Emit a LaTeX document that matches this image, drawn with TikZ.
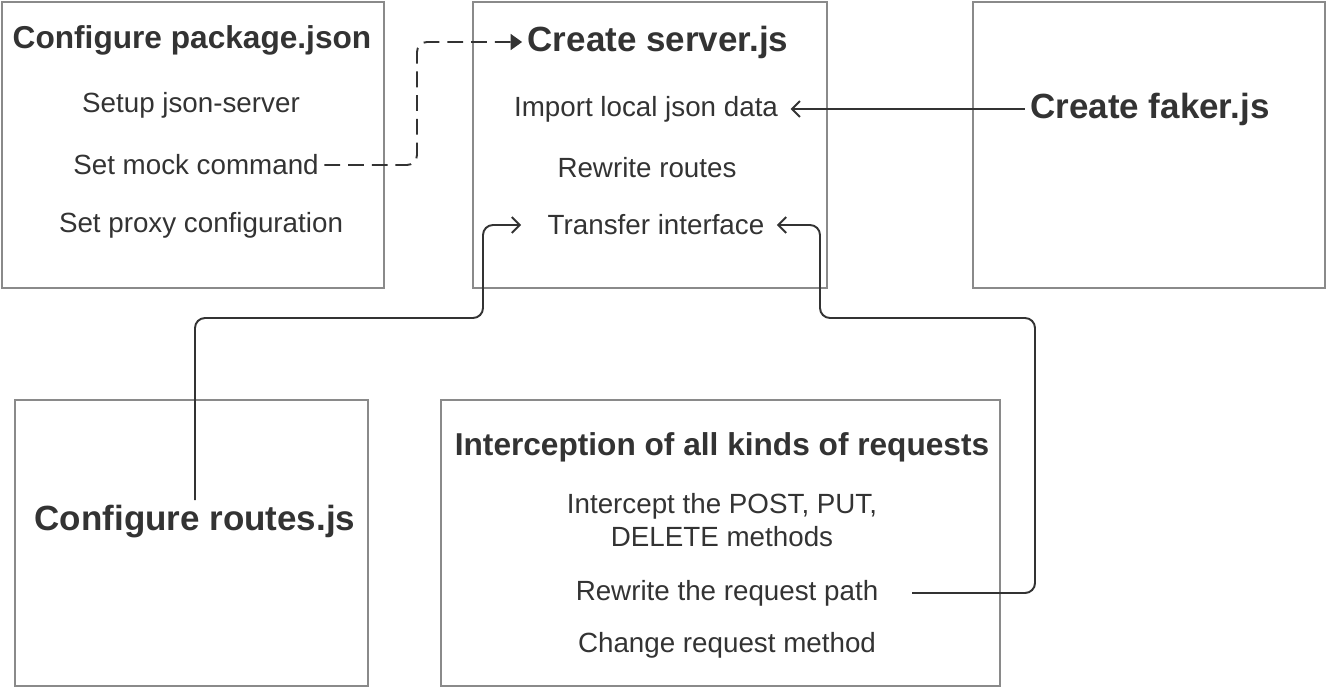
\documentclass[tikz,border=0pt]{standalone}
\usepackage{fontspec}
\setmainfont{Liberation Sans}
\usetikzlibrary{arrows.meta}
\definecolor{boxgray}{HTML}{8A8A8A}
\definecolor{ink}{HTML}{333333}
\begin{document}
\begin{tikzpicture}[
    panel/.style={draw=boxgray,line width=1.1pt,minimum height=5.72cm,inner sep=0pt},
    item/.style={text=ink,font=\fontsize{15.8}{19}\selectfont,inner sep=3pt},
    head/.style={text=ink,font=\fontsize{18}{21}\selectfont\bfseries,inner sep=3pt},
    bighead/.style={text=ink,font=\fontsize{19.9}{23}\selectfont\bfseries,inner sep=3pt},
    link/.style={draw=ink,line width=1.1pt,rounded corners=0.2cm}]
    \useasboundingbox (0,0) rectangle (26.54,-13.76);
    % the five boxes
    \node[panel,minimum width=7.64cm] (pkg) at (3.86,-2.9) {};
    \node[panel,minimum width=7.08cm] (srv) at (13.0,-2.9) {};
    \node[panel,minimum width=7.04cm] (fkr) at (22.98,-2.9) {};
    \node[panel,minimum width=7.06cm] (rts) at (3.83,-10.86) {};
    \node[panel,minimum width=11.18cm] (icp) at (14.41,-10.86) {};
    % texts
    \node[head] (pkgtitle) at (3.84,-0.8) {Configure package.json};
    \node[item] (setup) at (3.82,-2.1) {Setup json-server};
    \node[item] (mock) at (3.92,-3.3) {Set mock command};
    \node[item] (proxy) at (4.02,-4.5) {Set proxy configuration};
    \node[bighead] (srvtitle) at (13.16,-0.84) {Create server.js};
    \node[item] (import) at (12.92,-2.18) {Import local json data};
    \node[item] (rewrite) at (12.94,-3.36) {Rewrite routes};
    \node[item] (transfer) at (13.12,-4.5) {Transfer interface};
    \node[bighead] (faker) at (23.0,-2.18) {Create faker.js};
    \node[bighead] (routes) at (3.9,-10.44) {Configure routes.js};
    \node[head] (icptitle) at (14.44,-8.94) {Interception of all kinds of requests};
    \node[item,align=center] (methods) at (14.44,-10.4) {Intercept the POST, PUT,\\DELETE methods};
    \node[item] (reqpath) at (14.54,-11.86) {Rewrite the request path};
    \node[item] (change) at (14.54,-12.9) {Change request method};
    % connectors
    \draw[link,dash pattern=on 9pt off 4.5pt,-{Triangle[length=6.5pt,width=9pt]}]
        (mock.east) -| (8.34,-0.84) -- (srvtitle.west);
    \draw[link,-{Straight Barb[length=4.5pt,width=9pt]},shorten >=4pt] (faker.west) -- (import.east);
    \draw[link,-{Straight Barb[length=4.5pt,width=9pt]},shorten >=12pt]
        (routes.north) |- (9.66,-6.36) |- (transfer.west);
    \draw[link,-{Straight Barb[length=4.5pt,width=9pt]},shorten <=16pt,shorten >=4pt]
        (reqpath.east) -| (20.7,-6.36) -| (16.4,-4.5) -- (transfer.east);
\end{tikzpicture}
\end{document}
